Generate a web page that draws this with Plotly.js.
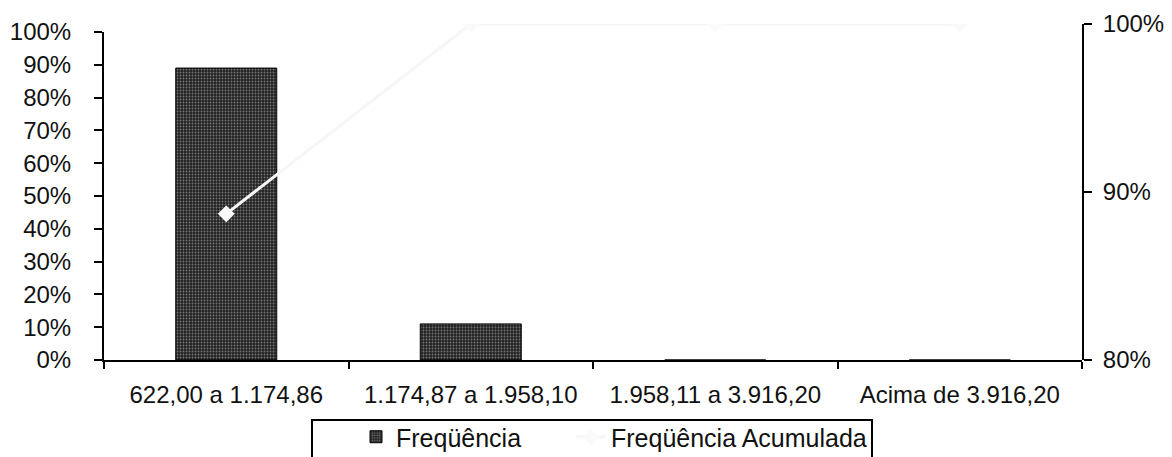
<!DOCTYPE html>
<html>
<head>
<meta charset="utf-8">
<script src="https://cdn.plot.ly/plotly-3.0.1.min.js"></script>
<style>html,body{margin:0;padding:0;background:#fff;}#chart{width:1172px;height:457px;}</style>
</head>
<body>
<div id="chart"></div>
<script>
const categories = ['622,00 a 1.174,86', '1.174,87 a 1.958,10', '1.958,11 a 3.916,20', 'Acima de 3.916,20'];
const frequencia = [89, 11, 0, 0];
const acumulada = [88.7, 100, 100, 100];
const leftTicks = [0, 10, 20, 30, 40, 50, 60, 70, 80, 90, 100];
const leftTickLabels = ['0%', '10%', '20%', '30%', '40%', '50%', '60%', '70%', '80%', '90%', '100%'];
const rightTicks = [80, 90, 100];
const rightTickLabels = ['80%', '90%', '100%'];

const FONT = 'Liberation Sans, Arial, sans-serif';

const traces = [
  {
    type: 'bar', name: 'Freqüência', x: categories, y: frequencia,
    xaxis: 'x', yaxis: 'y', legend: 'legend',
    marker: {
      color: '#2b2b2b',
      line: {color: '#000', width: 1},
      pattern: {shape: '.', fgcolor: '#777777', bgcolor: '#222222', size: 3, solidity: 0.3}
    },
    hoverinfo: 'x+y'
  },
  {
    type: 'scatter', mode: 'lines+markers', name: 'Freqüência Acumulada',
    x: categories, y: acumulada, xaxis: 'x', yaxis: 'y2', legend: 'legend2',
    line: {color: '#f6f6f6', width: 3},
    marker: {symbol: 'diamond', size: 13, color: '#fafafa'},
    cliponaxis: true
  }
];

const px = v => (v - 104) / 978;
const py = v => (360 - v) / 336;

const legendBase = {
  orientation: 'h', xref: 'container', yref: 'container',
  xanchor: 'left', y: (457 - 414) / 457, yanchor: 'top',
  font: {family: FONT, size: 25, color: '#111'},
  bgcolor: 'rgba(0,0,0,0)', borderwidth: 0
};

const layout = {
  width: 1172, height: 457,
  margin: {l: 104, r: 90, t: 24, b: 97, pad: 0, autoexpand: false},
  paper_bgcolor: '#fff', plot_bgcolor: 'rgba(0,0,0,0)',
  font: {family: FONT, size: 24, color: '#111'},
  bargap: 0.587,
  showlegend: true,
  legend: Object.assign({}, legendBase, {x: 356 / 1172}),
  legend2: Object.assign({}, legendBase, {x: 571 / 1172}),
  xaxis: {
    type: 'category', categoryarray: categories, range: [-0.5, 3.5],
    showline: true, linecolor: '#000', linewidth: 2,
    ticks: 'outside', ticklen: 7, tickwidth: 2, tickcolor: '#000',
    tickson: 'boundaries', showgrid: false, zeroline: false,
    ticklabelstandoff: 12,
    tickfont: {family: FONT, size: 24, color: '#111'},
    anchor: 'y'
  },
  xaxis2: {
    overlaying: 'x', anchor: 'y', type: 'linear', range: [-0.5, 3.5],
    tickmode: 'array', tickvals: [0.5, 1.5, 2.5],
    ticks: 'inside', ticklen: 7, tickwidth: 2, tickcolor: '#000',
    showticklabels: false, showgrid: false, zeroline: false, showline: false
  },
  yaxis: {
    domain: [0, 328 / 336], range: [0, 100],
    tickmode: 'array', tickvals: leftTicks, ticktext: leftTickLabels,
    showline: true, linecolor: '#000', linewidth: 2,
    ticks: 'outside', ticklen: 8, tickwidth: 2, tickcolor: '#000',
    showgrid: false, zeroline: false, ticklabelstandoff: 18,
    tickfont: {family: FONT, size: 24, color: '#111'}
  },
  yaxis3: {
    overlaying: 'y', side: 'left', range: [0, 100],
    tickmode: 'array', tickvals: leftTicks,
    ticks: 'inside', ticklen: 8, tickwidth: 2, tickcolor: '#000',
    showticklabels: false, showgrid: false, zeroline: false, showline: false
  },
  yaxis2: {
    domain: [0, 1], anchor: 'x', side: 'right', range: [80, 100],
    tickmode: 'array', tickvals: rightTicks, ticktext: rightTickLabels,
    showline: true, linecolor: '#000', linewidth: 2,
    ticks: 'outside', ticklen: 8, tickwidth: 2, tickcolor: '#000',
    showgrid: false, zeroline: false, ticklabelstandoff: 6,
    tickfont: {family: FONT, size: 24, color: '#111'}
  },
  yaxis4: {
    overlaying: 'y2', side: 'right', range: [80, 100],
    tickmode: 'array', tickvals: rightTicks,
    ticks: 'inside', ticklen: 8, tickwidth: 2, tickcolor: '#000',
    showticklabels: false, showgrid: false, zeroline: false, showline: false
  },
  shapes: [
    {type: 'rect', xref: 'paper', yref: 'paper', x0: px(312), x1: px(872), y0: py(420), y1: py(470),
     line: {color: '#000', width: 2}, fillcolor: 'rgba(0,0,0,0)', layer: 'above'}
  ]
};

Plotly.newPlot('chart', traces, layout, {displayModeBar: false, staticPlot: true});
</script>
</body>
</html>
